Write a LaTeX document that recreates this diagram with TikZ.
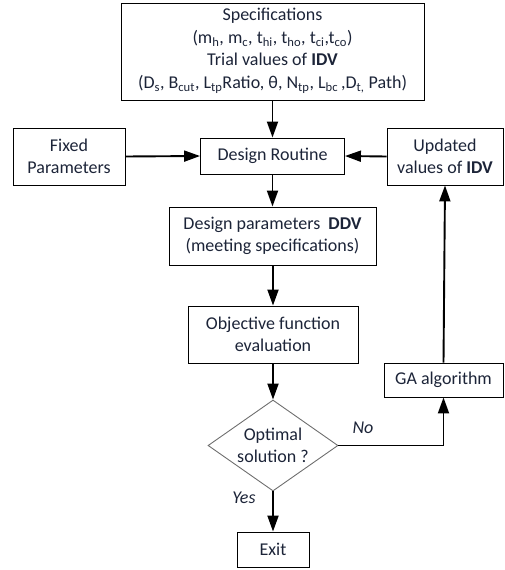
\documentclass[tikz,border=0pt]{standalone}
\usepackage{fontspec}
\setmainfont{Carlito}
\usetikzlibrary{arrows.meta,shapes.geometric}
\definecolor{txt}{RGB}{28,36,56}
\definecolor{dgray}{RGB}{110,110,110}
\begin{document}
\begin{tikzpicture}[x=1pt,y=-1pt,
  box/.style={draw=black, line width=0.9pt, text=txt, align=center, inner sep=0pt,
    font=\fontsize{18}{22.5}\selectfont},
  arr/.style={line width=1.9pt, -{Triangle[length=16pt,width=11pt]}},
  lbl/.style={text=txt, font=\fontsize{18}{21}\selectfont\itshape}]
\useasboundingbox (0,0) rectangle (505,570);
\node[box, minimum width=303pt, minimum height=97pt, text depth=6pt] (spec) at (272.5,51.5)
  {Specifications\\
   (m\textsubscript{h}, m\textsubscript{c}, t\textsubscript{hi}, t\textsubscript{ho}, t\textsubscript{ci},t\textsubscript{co})\\
   Trial values of \textbf{IDV}\\
   (D\textsubscript{s}, B\textsubscript{cut}, L\textsubscript{tp}Ratio, θ, N\textsubscript{tp}, L\textsubscript{bc}\,,D\textsubscript{t,} Path)};
\node[box, minimum width=112pt, minimum height=57pt] (fixed) at (69,156.5) {Fixed\\Parameters};
\node[box, minimum width=144pt, minimum height=36pt] (design) at (272.5,156) {Design Routine};
\node[box, minimum width=116pt, minimum height=57pt] (upd) at (445,156.5) {Updated\\values of \textbf{IDV}};
\node[box, minimum width=207pt, minimum height=58pt] (ddv) at (272.5,236) {Design parameters~~\textbf{DDV}\\(meeting specifications)};
\node[box, minimum width=170pt, minimum height=57pt] (obj) at (273,334.5) {Objective function\\evaluation};
\node[box, minimum width=119pt, minimum height=34pt] (ga) at (443.5,380) {GA algorithm};
\node[box, draw=dgray, shape=diamond, aspect=1.43, minimum width=130pt, minimum height=91pt] (opt) at (273,445.5) {Optimal\\solution ?};
\node[box, minimum width=72pt, minimum height=35pt] (exit) at (273,549.5) {Exit};
\coordinate (corner) at (ga.south |- opt.east);
\draw[arr] (spec.south -| design.north) -- (design.north);
\draw[arr] (fixed.east) -- (design.west);
\draw[arr] (upd.west) -- (design.east);
\draw[arr] (design.south) -- (design.south |- ddv.north);
\draw[arr] (ddv.south -| obj.north) -- (obj.north);
\draw[arr] (obj.south) -- (opt.north);
\draw[arr] (opt.south) -- (exit.north);
\draw[line width=1.3pt] (opt.east) -- (corner);
\draw[arr] (corner) -- (ga.south);
\draw[arr] (ga.north) -- (upd.south);
\node[lbl] (no) at (363,428) {No};
\node[lbl] (yes) at (244,498) {Yes};
\end{tikzpicture}
\end{document}
